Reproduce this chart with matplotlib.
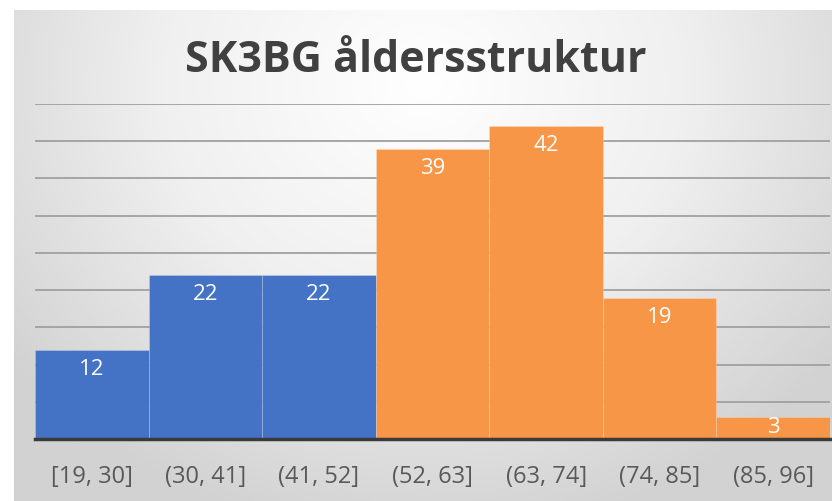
import numpy as np
import matplotlib.pyplot as plt
from matplotlib.colors import LinearSegmentedColormap

plt.rcParams['font.family'] = ['Open Sans', 'DejaVu Sans']

# data
bins = ['[19, 30]', '(30, 41]', '(41, 52]', '(52, 63]', '(63, 74]', '(74, 85]', '(85, 96]']
counts = [12, 22, 22, 39, 42, 19, 3]
group = ['blue', 'blue', 'blue', 'orange', 'orange', 'orange', 'orange']
colors = {'blue': '#4472C4', 'orange': '#F79646'}

fig = plt.figure(figsize=(8.32, 5.01), dpi=100)
fig.patch.set_facecolor('white')

# gradient background of the chart box
bg = fig.add_axes([14 / 832, 0, 1 - 14 / 832, 1 - 10 / 501])
yy, xx = np.mgrid[0:1:200j, 0:1:300j]
r = np.sqrt(((xx - 0.5) / 0.75) ** 2 + ((yy - 0.15) / 1.1) ** 2)
cmap = LinearSegmentedColormap.from_list('bg', ['#ffffff', '#f0f0f0', '#d2d2d2'])
bg.imshow(r, cmap=cmap, aspect='auto', extent=[0, 1, 1, 0], vmin=0, vmax=0.85)
bg.set_axis_off()

ax = fig.add_axes([35 / 832, 1 - 439 / 501, 795 / 832, 335 / 501])
ax.patch.set_alpha(0)
x = np.arange(len(bins))
bars = ax.bar(x, counts, width=1.0, color=[colors[g] for g in group],
              edgecolor=(1, 1, 1, 0.25), linewidth=0.6, zorder=3)
ax.set_xlim(-0.5, len(bins) - 0.5)
ax.set_ylim(0, 45)
ax.set_yticks(np.arange(5, 50, 5))
ax.yaxis.grid(True, color='#a0a0a0', linewidth=1.3, zorder=0)
ax.tick_params(axis='y', left=False, labelleft=False)
ax.tick_params(axis='x', bottom=False, labelsize=17, labelcolor='#595959', pad=15)
ax.set_xticks(x)
ax.set_xticklabels(bins)
for s in ['top', 'right', 'left']:
    ax.spines[s].set_visible(False)
ax.spines['bottom'].set_color('#3a3a3a')
ax.spines['bottom'].set_linewidth(2.5)
ax.spines['bottom'].set_zorder(4)

for b, v in zip(bars, counts):
    cx = b.get_x() + b.get_width() / 2
    if v < 5:
        # short bar: label sits in the middle of it
        ax.annotate(str(v), (cx, v / 2), ha='center', va='center',
                    color='white', fontsize=16, zorder=5)
    else:
        ax.annotate(str(v), (cx, v), xytext=(0, -6.5),
                    textcoords='offset points', ha='center', va='top',
                    color='white', fontsize=16, zorder=5)

fig.text(0.5, 1 - 61 / 501, 'SK3BG åldersstruktur', ha='center', va='center',
         fontsize=31, fontweight='bold', color='#404040')

fig.savefig('out.png', dpi=100)
